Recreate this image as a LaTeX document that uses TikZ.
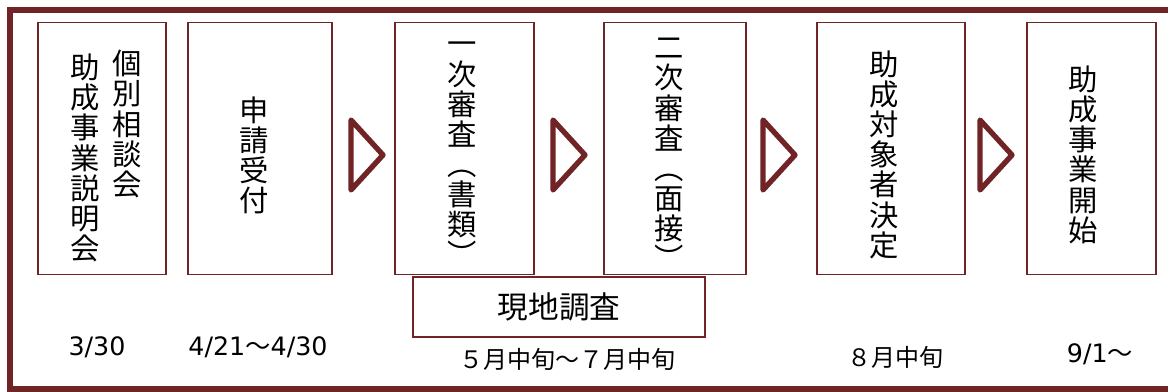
\documentclass[tikz,border=0pt]{standalone}
\usepackage{fontspec}
\setmainfont{Noto Sans CJK JP}
\newfontfamily\latinfont{DejaVu Sans}
\usepackage{tikz}
\definecolor{frameRed}{RGB}{112,36,38}

\begin{document}
\begin{tikzpicture}[x=0.75pt, y=-0.75pt,
    stage/.style={draw=frameRed, line width=1.1pt, anchor=north, minimum height=189pt, inner sep=0pt},
    tate/.style={inner sep=0pt, align=center, font=\fontsize{22}{22.6}\selectfont},
    date/.style={inner sep=0pt, font=\fontsize{19}{19}\selectfont},
    nextmark/.style={draw=frameRed, line width=4pt, line join=round}]
    \useasboundingbox (0,0) rectangle (1168,392);
    \draw[frameRed, line width=4.5pt] (1180,10) -- (10,10) -- (10,389) -- (1180,389);
    \node[stage, minimum width=96pt] (setsumei) at (102,22) {};
    \node[stage, minimum width=108pt] (uketsuke) at (260,22) {};
    \node[stage, minimum width=104pt] (ichiji) at (464.5,22) {};
    \node[stage, minimum width=106.5pt] (niji) at (675,22) {};
    \node[stage, minimum width=111pt] (kettei) at (891,22) {};
    \node[stage, minimum width=96.75pt] (kaishi) at (1091.5,22) {};
    \node[tate] (soudankai) at (127,124) {個\\別\\相\\談\\会};
    \node[tate] (setsumeikai) at (85,158) {助\\成\\事\\業\\説\\明\\会};
    \node[tate] (uketsukeText) at ([xshift=-4.5pt, yshift=-5pt]uketsuke.center) {申\\請\\受\\付};
    \node[tate] (ichijiText) at ([xshift=-2pt, yshift=-4pt]ichiji.center) {一\\次\\審\\査\\︵\\書\\類\\︶};
    \node[tate] (nijiText) at ([xshift=-4.5pt, yshift=-4pt]niji.center) {二\\次\\審\\査\\︵\\面\\接\\︶};
    \node[tate] (ketteiText) at ([xshift=-5pt, yshift=-4.5pt]kettei.center) {助\\成\\対\\象\\者\\決\\定};
    \node[tate] (kaishiText) at ([xshift=-6pt, yshift=-4.5pt]kaishi.center) {助\\成\\事\\業\\開\\始};
    \node[draw=frameRed, line width=1.1pt, minimum width=219pt, minimum height=45pt, font=\fontsize{23}{23}\selectfont] (genchi) at (559,307) {現地調査};
    \foreach \x in {351,553,763,980}
        \draw[nextmark] (\x,120) -- ++(0,70) -- ++(32,-35) -- cycle;
    \node[date] (d1) at (97,347) {\latinfont 3/30};
    \node[date] (d2) at (258,347) {{\latinfont 4/21}～{\latinfont 4/30}};
    \node[date, font=\fontsize{18}{18}\selectfont] (d3) at (567,359) {５月中旬～７月中旬};
    \node[date, font=\fontsize{18}{18}\selectfont] (d4) at (895,357) {８月中旬};
    \node[date] (d5) at (1100,354) {{\latinfont 9/1}～};
\end{tikzpicture}
\end{document}
